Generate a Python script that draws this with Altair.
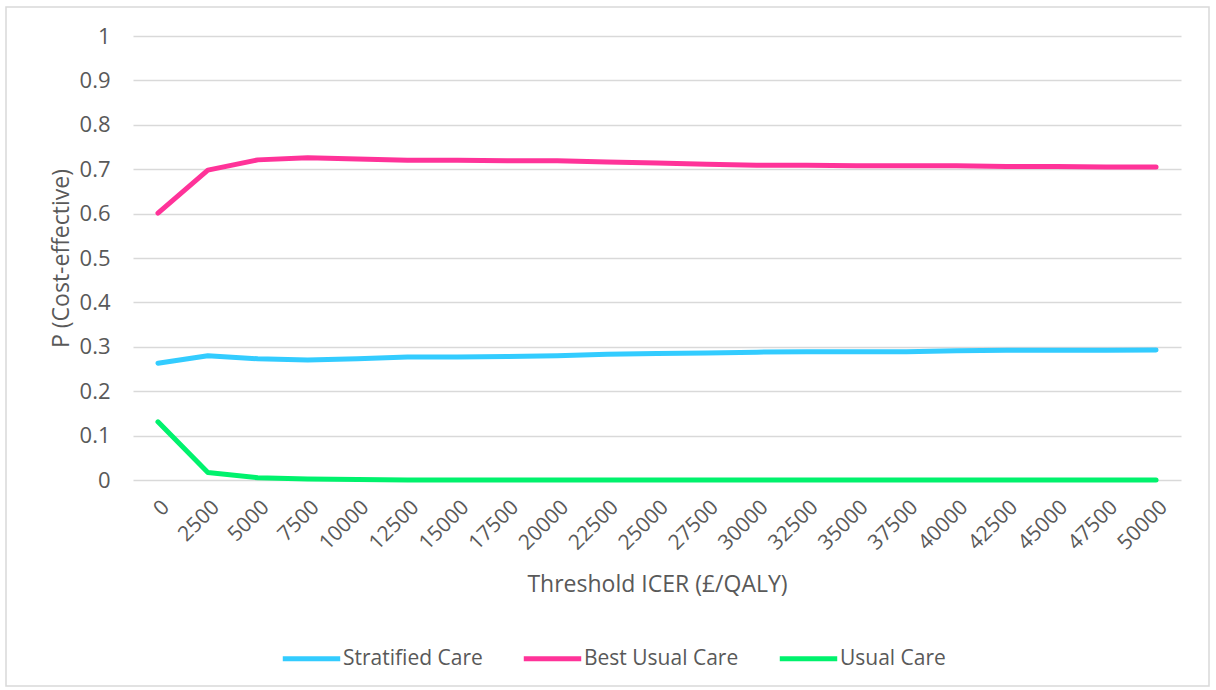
import altair as alt
import pandas as pd

# Willingness-to-pay thresholds (£/QALY)
thresholds = [0, 2500, 5000, 7500, 10000, 12500, 15000, 17500, 20000, 22500,
              25000, 27500, 30000, 32500, 35000, 37500, 40000, 42500, 45000,
              47500, 50000]

# Probability each strategy is cost-effective at each threshold
stratified_care = [0.263, 0.280, 0.273, 0.270, 0.273, 0.277, 0.277, 0.278,
                   0.280, 0.283, 0.285, 0.286, 0.288, 0.289, 0.289, 0.289,
                   0.291, 0.292, 0.292, 0.292, 0.293]
best_usual_care = [0.601, 0.698, 0.721, 0.726, 0.723, 0.720, 0.720, 0.719,
                   0.719, 0.716, 0.714, 0.711, 0.709, 0.709, 0.708, 0.708,
                   0.708, 0.706, 0.706, 0.705, 0.705]
usual_care = [0.131, 0.017, 0.005, 0.002, 0.001, 0.0, 0.0, 0.0, 0.0, 0.0,
              0.0, 0.0, 0.0, 0.0, 0.0, 0.0, 0.0, 0.0, 0.0, 0.0, 0.0]

series_names = ["Stratified Care", "Best Usual Care", "Usual Care"]
series_colors = ["#33CCFF", "#FF3399", "#00F26D"]

rows = []
for name, vals in zip(series_names, [stratified_care, best_usual_care, usual_care]):
    for t, v in zip(thresholds, vals):
        rows.append({"threshold": str(t), "p": v, "strategy": name})
df = pd.DataFrame(rows)

FONT = "Open Sans"
GREY = "#595959"
W, H = 1048, 444
LEFT, TOP = 133, 36

lines = alt.Chart(df).mark_line(strokeWidth=5, strokeCap="round", strokeJoin="round").encode(
    x=alt.X("threshold:N", sort=[str(t) for t in thresholds],
            scale=alt.Scale(type="point", padding=0.5),
            axis=alt.Axis(title="Threshold ICER (£/QALY)", labelAngle=-45,
                          labelFontSize=21, labelColor=GREY, labelFont=FONT,
                          titleFontSize=23, titleColor=GREY, titleFont=FONT,
                          titleFontWeight="normal", titlePadding=20,
                          ticks=False, domain=False, grid=False, labelPadding=16)),
    y=alt.Y("p:Q", scale=alt.Scale(domain=[0, 1], nice=False),
            axis=alt.Axis(title="P (Cost-effective)", values=[i / 10 for i in range(11)],
                          labelExpr="datum.value == 0 ? '0' : datum.value == 1 ? '1' : format(datum.value, '.1f')",
                          labelFontSize=22, labelColor=GREY, labelFont=FONT,
                          titleFontSize=23, titleColor=GREY, titleFont=FONT,
                          titleFontWeight="normal", titlePadding=6,
                          ticks=False, domain=False, grid=True, gridColor="#D9D9D9",
                          gridWidth=1.3, labelPadding=23)),
    color=alt.Color("strategy:N", sort=series_names,
                    scale=alt.Scale(domain=series_names, range=series_colors),
                    legend=alt.Legend(title=None, orient="none", direction="horizontal",
                                      legendX=147, legendY=591,
                                      symbolType="stroke", symbolSize=3300,
                                      symbolStrokeWidth=5, labelFontSize=21,
                                      labelColor=GREY, labelFont=FONT,
                                      labelOffset=0, columnPadding=30)),
)

frame = alt.Chart(pd.DataFrame({"k": [0]})).mark_rect(
    fill=None, stroke="#D9D9D9", strokeWidth=1.5
).encode(
    x=alt.value(6 - LEFT), x2=alt.value(1209 - LEFT),
    y=alt.value(7 - TOP), y2=alt.value(686 - TOP),
)

chart = alt.layer(frame, lines).properties(
    width=W, height=H,
    padding={"left": LEFT, "top": TOP, "right": 1216 - LEFT - W, "bottom": 690 - TOP - H},
    autosize=alt.AutoSizeParams(type="none"),
    background="white",
).configure_view(stroke=None)

chart.save("out.html", embed_options={"renderer": "svg", "actions": False})
